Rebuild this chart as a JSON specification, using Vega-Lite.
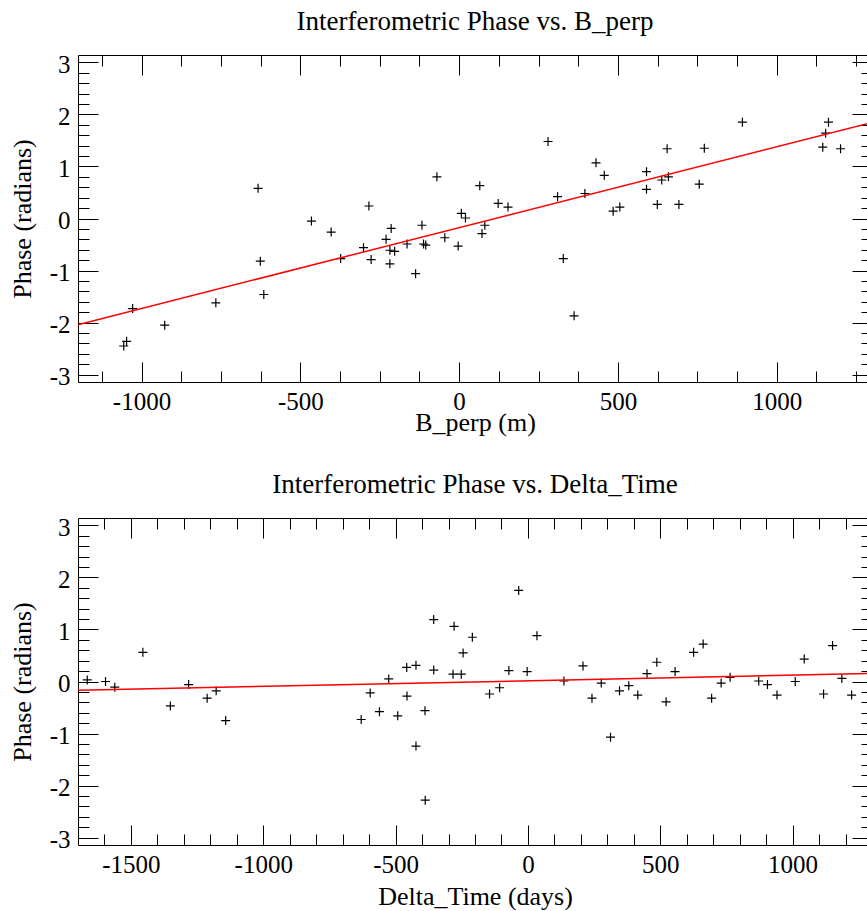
{
  "$schema": "https://vega.github.io/schema/vega-lite/v6.json",
  "background": "white",
  "padding": {"left": 8, "top": 7, "right": 0, "bottom": 0},
  "spacing": 34,
  "config": {
    "view": {"stroke": "black", "strokeWidth": 1},
    "axis": {"grid": false, "labelFont": "Liberation Serif", "labelFontSize": 25, "labelColor": "black", "titleFont": "Liberation Serif", "titleFontSize": 26, "titleFontWeight": "normal", "titleColor": "black", "tickColor": "black", "tickWidth": 1, "domainColor": "black", "labelOverlap": false},
    "title": {"font": "Liberation Serif", "fontSize": 27, "fontWeight": "normal", "color": "black"}
  },
  "datasets": {
    "bperp": [
      {"b": -633, "phase": 0.58}, {"b": -626, "phase": -0.82}, {"b": -615, "phase": -1.46}, {"b": -766, "phase": -1.62},
      {"b": -927, "phase": -2.05}, {"b": -1028, "phase": -1.73}, {"b": -1047, "phase": -2.36}, {"b": -1056, "phase": -2.45},
      {"b": -465, "phase": -0.05}, {"b": -403, "phase": -0.26}, {"b": -373, "phase": -0.77}, {"b": -284, "phase": 0.24},
      {"b": -301, "phase": -0.56}, {"b": -277, "phase": -0.79}, {"b": -214, "phase": -0.19}, {"b": -230, "phase": -0.40},
      {"b": -218, "phase": -0.61}, {"b": -203, "phase": -0.63}, {"b": -218, "phase": -0.87}, {"b": -164, "phase": -0.49},
      {"b": -117, "phase": -0.13}, {"b": -112, "phase": -0.49}, {"b": -105, "phase": -0.51}, {"b": -137, "phase": -1.06},
      {"b": -70, "phase": 0.80}, {"b": -45, "phase": -0.37}, {"b": -3, "phase": -0.53}, {"b": 7, "phase": 0.10},
      {"b": 20, "phase": 0.01}, {"b": 65, "phase": 0.63}, {"b": 81, "phase": -0.13}, {"b": 72, "phase": -0.29},
      {"b": 123, "phase": 0.29}, {"b": 154, "phase": 0.22}, {"b": 280, "phase": 1.48}, {"b": 310, "phase": 0.42},
      {"b": 328, "phase": -0.77}, {"b": 362, "phase": -1.87}, {"b": 396, "phase": 0.48}, {"b": 431, "phase": 1.07},
      {"b": 457, "phase": 0.83}, {"b": 485, "phase": 0.14}, {"b": 506, "phase": 0.22}, {"b": 590, "phase": 0.90},
      {"b": 590, "phase": 0.56}, {"b": 624, "phase": 0.27}, {"b": 638, "phase": 0.74}, {"b": 659, "phase": 0.80},
      {"b": 655, "phase": 1.34}, {"b": 692, "phase": 0.27}, {"b": 756, "phase": 0.66}, {"b": 772, "phase": 1.35},
      {"b": 892, "phase": 1.85}, {"b": 1163, "phase": 1.85}, {"b": 1154, "phase": 1.64}, {"b": 1145, "phase": 1.37},
      {"b": 1201, "phase": 1.34}
    ],
    "bperp_fit": [
      {"b": -1200, "phase": -2.04}, {"b": 1300, "phase": 1.845}
    ],
    "dtime": [
      {"t": -1665, "phase": 0.03}, {"t": -1596, "phase": 0.0}, {"t": -1561, "phase": -0.11}, {"t": -1455, "phase": 0.56},
      {"t": -1351, "phase": -0.47}, {"t": -1282, "phase": -0.06}, {"t": -1212, "phase": -0.32}, {"t": -1178, "phase": -0.18},
      {"t": -1142, "phase": -0.75}, {"t": -630, "phase": -0.73}, {"t": -596, "phase": -0.22}, {"t": -561, "phase": -0.58},
      {"t": -526, "phase": 0.05}, {"t": -492, "phase": -0.66}, {"t": -458, "phase": 0.27}, {"t": -457, "phase": -0.28},
      {"t": -423, "phase": 0.31}, {"t": -423, "phase": -1.24}, {"t": -389, "phase": -0.56}, {"t": -388, "phase": -2.28},
      {"t": -356, "phase": 1.19}, {"t": -356, "phase": 0.22}, {"t": -279, "phase": 1.06}, {"t": -210, "phase": 0.85},
      {"t": -245, "phase": 0.55}, {"t": -283, "phase": 0.14}, {"t": -252, "phase": 0.14}, {"t": -145, "phase": -0.24},
      {"t": -107, "phase": -0.12}, {"t": -72, "phase": 0.21}, {"t": -35, "phase": 1.75}, {"t": -3, "phase": 0.19},
      {"t": 34, "phase": 0.88}, {"t": 136, "phase": 0.01}, {"t": 208, "phase": 0.30}, {"t": 242, "phase": -0.32},
      {"t": 277, "phase": -0.03}, {"t": 312, "phase": -1.07}, {"t": 346, "phase": -0.18}, {"t": 381, "phase": -0.08},
      {"t": 415, "phase": -0.26}, {"t": 450, "phase": 0.15}, {"t": 487, "phase": 0.37}, {"t": 522, "phase": -0.39},
      {"t": 556, "phase": 0.19}, {"t": 626, "phase": 0.56}, {"t": 662, "phase": 0.72}, {"t": 694, "phase": -0.32},
      {"t": 730, "phase": -0.03}, {"t": 764, "phase": 0.08}, {"t": 872, "phase": 0.01}, {"t": 905, "phase": -0.06},
      {"t": 941, "phase": -0.26}, {"t": 1010, "phase": 0.0}, {"t": 1044, "phase": 0.43}, {"t": 1117, "phase": -0.24},
      {"t": 1151, "phase": 0.69}, {"t": 1186, "phase": 0.06}, {"t": 1223, "phase": -0.26}
    ],
    "dtime_fit": [
      {"t": -1700, "phase": -0.17}, {"t": 1300, "phase": 0.155}
    ]
  },
  "vconcat": [
    {
      "title": {"text": "Interferometric Phase vs. B_perp", "offset": -5, "baseline": "alphabetic"},
      "width": 794,
      "height": 327,
      "resolve": {"axis": {"x": "independent", "y": "independent"}},
      "layer": [
        {
          "data": {"name": "bperp"},
          "mark": {"type": "point", "shape": "M-1,0L1,0M0,-1L0,1", "size": 81, "filled": false, "stroke": "black", "strokeWidth": 1.2, "opacity": 1},
          "encoding": {
            "x": {"field": "b", "type": "quantitative", "scale": {"domain": [-1200, 1300], "nice": false, "zero": false},
              "axis": {"orient": "bottom", "values": [-1000, -500, 0, 500, 1000], "format": "d", "ticks": false, "tickSize": 0, "domain": false, "labelPadding": 7, "labelFlush": false, "labelExpr": "replace(datum.label, '−', '-')", "title": "B_perp (m)", "titlePadding": -5}},
            "y": {"field": "phase", "type": "quantitative", "scale": {"domain": [-3.14159, 3.14159], "nice": false, "zero": false},
              "axis": {"orient": "left", "values": [-3, -2, -1, 0, 1, 2, 3], "format": "d", "ticks": false, "tickSize": 0, "domain": false, "labelPadding": 8, "labelFlush": false, "labelOffset": 2, "labelExpr": "replace(datum.label, '−', '-')", "title": "Phase (radians)", "titlePadding": 14}}
          }
        },
        {
          "data": {"name": "bperp_fit"},
          "mark": {"type": "line", "color": "red", "strokeWidth": 1.5},
          "encoding": {
            "x": {"field": "b", "type": "quantitative", "scale": {"domain": [-1200, 1300], "nice": false, "zero": false},
              "axis": {"orient": "bottom", "values": [-1000, -500, 0, 500, 1000], "tickSize": -20, "labels": false, "domain": false, "title": null}},
            "y": {"field": "phase", "type": "quantitative", "scale": {"domain": [-3.14159, 3.14159], "nice": false, "zero": false},
              "axis": {"orient": "left", "values": [-3, -2, -1, 0, 1, 2, 3], "tickSize": -20, "labels": false, "domain": false, "title": null}}
          }
        },
        {
          "data": {"name": "bperp_fit"},
          "mark": {"type": "point", "opacity": 0},
          "encoding": {
            "x": {"field": "b", "type": "quantitative", "scale": {"domain": [-1200, 1300], "nice": false, "zero": false},
              "axis": {"orient": "bottom", "values": [-1125, -875, -750, -625, -375, -250, -125, 125, 250, 375, 625, 750, 875, 1125, 1250], "tickSize": -11, "labels": false, "domain": false, "title": null}},
            "y": {"field": "phase", "type": "quantitative", "scale": {"domain": [-3.14159, 3.14159], "nice": false, "zero": false},
              "axis": {"orient": "left", "values": [-2.8, -2.6, -2.4, -2.2, -1.8, -1.6, -1.4, -1.2, -0.8, -0.6, -0.4, -0.2, 0.2, 0.4, 0.6, 0.8, 1.2, 1.4, 1.6, 1.8, 2.2, 2.4, 2.6, 2.8], "tickSize": -11, "labels": false, "domain": false, "title": null}}
          }
        },
        {
          "data": {"name": "bperp_fit"},
          "mark": {"type": "point", "opacity": 0},
          "encoding": {
            "x": {"field": "b", "type": "quantitative", "scale": {"domain": [-1200, 1300], "nice": false, "zero": false},
              "axis": {"orient": "top", "values": [-1000, -500, 0, 500, 1000], "tickSize": -20, "labels": false, "domain": false, "title": null}},
            "y": {"field": "phase", "type": "quantitative", "scale": {"domain": [-3.14159, 3.14159], "nice": false, "zero": false},
              "axis": {"orient": "right", "values": [-3, -2, -1, 0, 1, 2, 3], "tickSize": -20, "labels": false, "domain": false, "title": null}}
          }
        },
        {
          "data": {"name": "bperp_fit"},
          "mark": {"type": "point", "opacity": 0},
          "encoding": {
            "x": {"field": "b", "type": "quantitative", "scale": {"domain": [-1200, 1300], "nice": false, "zero": false},
              "axis": {"orient": "top", "values": [-1125, -875, -750, -625, -375, -250, -125, 125, 250, 375, 625, 750, 875, 1125, 1250], "tickSize": -11, "labels": false, "domain": false, "title": null}},
            "y": {"field": "phase", "type": "quantitative", "scale": {"domain": [-3.14159, 3.14159], "nice": false, "zero": false},
              "axis": {"orient": "right", "values": [-2.8, -2.6, -2.4, -2.2, -1.8, -1.6, -1.4, -1.2, -0.8, -0.6, -0.4, -0.2, 0.2, 0.4, 0.6, 0.8, 1.2, 1.4, 1.6, 1.8, 2.2, 2.4, 2.6, 2.8], "tickSize": -11, "labels": false, "domain": false, "title": null}}
          }
        }
      ]
    },
    {
      "title": {"text": "Interferometric Phase vs. Delta_Time", "offset": -5, "baseline": "alphabetic"},
      "width": 794,
      "height": 327,
      "resolve": {"axis": {"x": "independent", "y": "independent"}},
      "layer": [
        {
          "data": {"name": "dtime"},
          "mark": {"type": "point", "shape": "M-1,0L1,0M0,-1L0,1", "size": 81, "filled": false, "stroke": "black", "strokeWidth": 1.2, "opacity": 1},
          "encoding": {
            "x": {"field": "t", "type": "quantitative", "scale": {"domain": [-1700, 1300], "nice": false, "zero": false},
              "axis": {"orient": "bottom", "values": [-1500, -1000, -500, 0, 500, 1000], "format": "d", "ticks": false, "tickSize": 0, "domain": false, "labelPadding": 7, "labelFlush": false, "labelExpr": "replace(datum.label, '−', '-')", "title": "Delta_Time (days)", "titlePadding": 6}},
            "y": {"field": "phase", "type": "quantitative", "scale": {"domain": [-3.14159, 3.14159], "nice": false, "zero": false},
              "axis": {"orient": "left", "values": [-3, -2, -1, 0, 1, 2, 3], "format": "d", "ticks": false, "tickSize": 0, "domain": false, "labelPadding": 8, "labelFlush": false, "labelOffset": 2, "labelExpr": "replace(datum.label, '−', '-')", "title": "Phase (radians)", "titlePadding": 14}}
          }
        },
        {
          "data": {"name": "dtime_fit"},
          "mark": {"type": "line", "color": "red", "strokeWidth": 1.5},
          "encoding": {
            "x": {"field": "t", "type": "quantitative", "scale": {"domain": [-1700, 1300], "nice": false, "zero": false},
              "axis": {"orient": "bottom", "values": [-1500, -1000, -500, 0, 500, 1000], "tickSize": -20, "labels": false, "domain": false, "title": null}},
            "y": {"field": "phase", "type": "quantitative", "scale": {"domain": [-3.14159, 3.14159], "nice": false, "zero": false},
              "axis": {"orient": "left", "values": [-3, -2, -1, 0, 1, 2, 3], "tickSize": -20, "labels": false, "domain": false, "title": null}}
          }
        },
        {
          "data": {"name": "dtime_fit"},
          "mark": {"type": "point", "opacity": 0},
          "encoding": {
            "x": {"field": "t", "type": "quantitative", "scale": {"domain": [-1700, 1300], "nice": false, "zero": false},
              "axis": {"orient": "bottom", "values": [-1600, -1400, -1300, -1200, -1100, -900, -800, -700, -600, -400, -300, -200, -100, 100, 200, 300, 400, 600, 700, 800, 900, 1100, 1200], "tickSize": -11, "labels": false, "domain": false, "title": null}},
            "y": {"field": "phase", "type": "quantitative", "scale": {"domain": [-3.14159, 3.14159], "nice": false, "zero": false},
              "axis": {"orient": "left", "values": [-2.8, -2.6, -2.4, -2.2, -1.8, -1.6, -1.4, -1.2, -0.8, -0.6, -0.4, -0.2, 0.2, 0.4, 0.6, 0.8, 1.2, 1.4, 1.6, 1.8, 2.2, 2.4, 2.6, 2.8], "tickSize": -11, "labels": false, "domain": false, "title": null}}
          }
        },
        {
          "data": {"name": "dtime_fit"},
          "mark": {"type": "point", "opacity": 0},
          "encoding": {
            "x": {"field": "t", "type": "quantitative", "scale": {"domain": [-1700, 1300], "nice": false, "zero": false},
              "axis": {"orient": "top", "values": [-1500, -1000, -500, 0, 500, 1000], "tickSize": -20, "labels": false, "domain": false, "title": null}},
            "y": {"field": "phase", "type": "quantitative", "scale": {"domain": [-3.14159, 3.14159], "nice": false, "zero": false},
              "axis": {"orient": "right", "values": [-3, -2, -1, 0, 1, 2, 3], "tickSize": -20, "labels": false, "domain": false, "title": null}}
          }
        },
        {
          "data": {"name": "dtime_fit"},
          "mark": {"type": "point", "opacity": 0},
          "encoding": {
            "x": {"field": "t", "type": "quantitative", "scale": {"domain": [-1700, 1300], "nice": false, "zero": false},
              "axis": {"orient": "top", "values": [-1600, -1400, -1300, -1200, -1100, -900, -800, -700, -600, -400, -300, -200, -100, 100, 200, 300, 400, 600, 700, 800, 900, 1100, 1200], "tickSize": -11, "labels": false, "domain": false, "title": null}},
            "y": {"field": "phase", "type": "quantitative", "scale": {"domain": [-3.14159, 3.14159], "nice": false, "zero": false},
              "axis": {"orient": "right", "values": [-2.8, -2.6, -2.4, -2.2, -1.8, -1.6, -1.4, -1.2, -0.8, -0.6, -0.4, -0.2, 0.2, 0.4, 0.6, 0.8, 1.2, 1.4, 1.6, 1.8, 2.2, 2.4, 2.6, 2.8], "tickSize": -11, "labels": false, "domain": false, "title": null}}
          }
        }
      ]
    }
  ]
}
